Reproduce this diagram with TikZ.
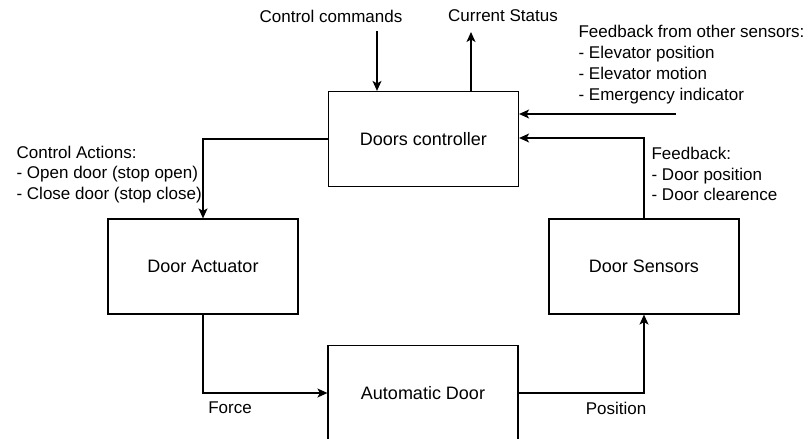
\documentclass[tikz,border=0pt]{standalone}
\usepackage{fontspec}
\setmainfont{Liberation Sans}
\usetikzlibrary{arrows.meta}
\begin{document}
\begin{tikzpicture}[x=1pt,y=-1pt,
  line width=1.2pt,
  blockbox/.style={draw, rectangle, minimum width=190pt, minimum height=95pt,
    inner sep=0pt, font=\fontsize{18}{21}\selectfont},
  lbl/.style={inner sep=0pt, font=\fontsize{17}{20.8}\selectfont},
  notes/.style={lbl, align=left, anchor=west},
  flow/.style={-{Stealth[length=10pt,width=9pt,inset=2.5pt]}}
]
\useasboundingbox (0,0) rectangle (809,439);

% blocks
\node[blockbox] (ctrl) at (423.5,139) {Doors controller};
\node[blockbox] (act)  at (203,266.5) {Door Actuator};
\node[blockbox] (sens) at (644,266.5) {Door Sensors};
\node[blockbox] (door) at (423,393) {Automatic Door};

% free ends of the external signals
\coordinate (cmdin) at (377,31);
\coordinate (statout) at (471,32);
\coordinate (otherin) at (676,114);

% labels
\node[lbl] (cmdlbl) at (331,16) {Control commands};
\node[lbl] (statlbl) at (503,16) {Current Status};
\node[notes] (otherlbl) at (578,64.5) {Feedback from other sensors:\\- Elevator position\\- Elevator motion\\- Emergency indicator};
\node[notes] (fblbl) at (651,174) {Feedback:\\- Door position\\- Door clearence};
\node[notes] (calbl) at (16,174.5) {Control Actions:\\- Open door (stop open)\\- Close door (stop close)};
\node[lbl] (forcelbl) at (230,408) {Force};
\node[lbl] (poslbl) at (616,408) {Position};

% connectors
\draw[flow] (cmdin) -- (cmdin |- ctrl.north);
\draw[flow] (statout |- ctrl.north) -- (statout);
\draw[flow] (otherin) -- (ctrl.east |- otherin);
\draw[flow] (sens.north) |- ([yshift=1pt]ctrl.east);
\draw[flow] (ctrl.west) -| (act.north);
\draw[flow] (act.south) |- (door.west);
\draw[flow] (door.east) -| (sens.south);
\end{tikzpicture}
\end{document}
